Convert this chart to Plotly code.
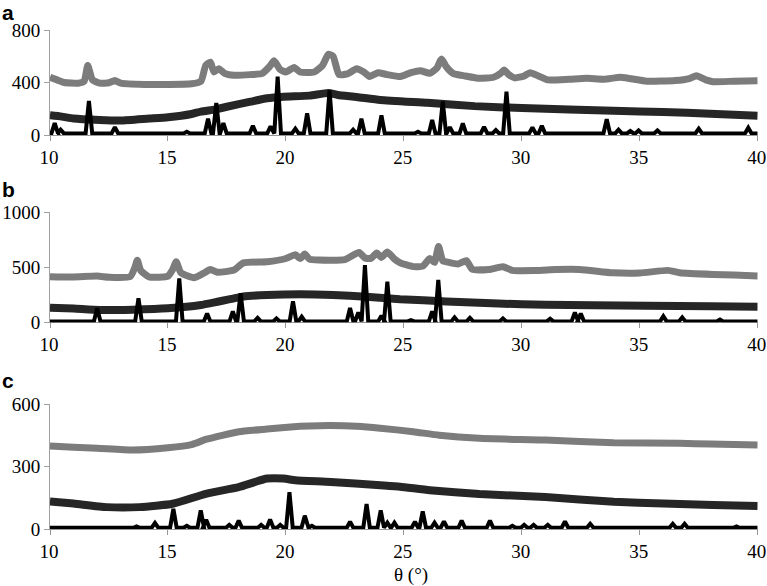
import plotly.graph_objects as go

# ---------------- data ----------------
# Panel a
A_LIGHT_X = [10.0, 10.3, 10.6, 11.2, 11.45, 11.6, 11.8, 12.1, 12.5, 12.75, 13.0, 14.0, 15.0, 16.0, 16.4, 16.6, 16.8,
             16.95, 17.15, 17.4, 17.8, 18.5, 19.0, 19.3, 19.5, 19.75, 20.0, 20.35, 20.6, 21.2, 21.55, 21.8, 22.0, 22.25,
             22.6, 23.0, 23.3, 23.55, 23.9, 24.3, 24.85, 25.3, 25.7, 26.1, 26.4, 26.6, 26.8, 27.1, 27.6, 28.2, 28.8,
             29.1, 29.25, 29.45, 29.7, 30.1, 30.35, 30.7, 31.1, 32.0, 32.75, 33.5, 34.2, 35.3, 36.5, 37.1, 37.4, 37.8,
             38.1, 39.0, 40.0]
A_LIGHT_Y = [440, 420, 400, 395, 410, 530, 420, 395, 398, 415, 395, 385, 385, 390, 410, 530, 555,
             480, 505, 470, 455, 460, 470, 520, 565, 500, 480, 515, 480, 480, 530, 615, 600, 460,
             465, 505, 480, 445, 475, 460, 445, 475, 490, 470, 510, 580, 520, 468, 450, 432, 440,
             470, 495, 460, 435, 450, 475, 450, 420, 425, 432, 425, 440, 410, 415, 430, 452, 420,
             406, 410, 413]
A_DARK_X = [10, 10.5, 11, 12.1, 13, 14.2, 15, 16, 16.4, 17, 17.5, 18.5, 19.2, 19.9, 21, 21.8, 22.2, 23, 24, 26, 28,
            30, 32, 35, 37, 39, 40]
A_DARK_Y = [150, 140, 125, 114, 110, 125, 135, 160, 178, 195, 215, 254, 280, 292, 300, 320, 305, 290, 267, 245, 220,
            205, 195, 180, 170, 155, 147]
A_PEAK_X = [10.2, 10.45, 11.65, 12.75, 15.8, 16.7, 17.05, 17.35, 18.6, 19.35, 19.65, 20.4, 20.9, 21.85, 22.85, 23.2,
            24.05, 25.6, 26.2, 26.65, 26.95, 27.5, 28.4, 28.9, 29.35, 30.45, 30.85, 33.6, 34.1, 34.6, 34.95, 35.75,
            37.5, 39.6]
A_PEAK_Y = [90, 40, 260, 60, 25, 125, 245, 90, 70, 65, 445, 48, 165, 340, 40, 125,
            150, 25, 115, 255, 60, 88, 62, 38, 330, 58, 70, 120, 40, 30, 35, 35,
            48, 55]
A_BASE = 12

# Panel b
B_LIGHT_X = [10, 11, 12, 12.5, 13.4, 13.6, 13.7, 13.85, 14.2, 15.0, 15.2, 15.35, 15.55, 16.1, 16.5, 16.8, 17.1, 17.8,
             18.2, 19.2, 20.0, 20.4, 20.6, 20.8, 21.0, 21.4, 22.5, 23.1, 23.35, 23.6, 23.85, 24.05, 24.3, 24.6, 24.85,
             25.4, 25.8, 26.1, 26.3, 26.47, 26.65, 26.9, 27.3, 27.65, 27.9, 28.6, 29.2, 29.6, 30.5, 31.2, 32.45,
             33.86, 35, 36.2, 36.7, 38.1, 39, 40]
B_LIGHT_Y = [415, 412, 420, 410, 415, 500, 565, 470, 412, 420, 480, 550, 450, 405, 445, 480, 455, 475,
             540, 550, 580, 615, 580, 620, 575, 566, 570, 635, 585, 580, 630, 590, 640, 575, 540,
             506, 510, 580, 545, 690, 560, 545, 530, 560, 482, 480, 505, 472, 470, 478, 480,
             450, 448, 472, 450, 435, 430, 422]
B_DARK_X = [10, 11, 12.1, 13.5, 15, 16.4, 17.8, 18.2, 19.2, 20.6, 22, 23.4, 24.84, 26.8, 29, 31, 33, 35.3, 38, 40]
B_DARK_Y = [133, 125, 112, 115, 127, 157, 218, 235, 248, 254, 248, 233, 210, 190, 170, 160, 155, 150, 145, 142]
B_PEAK_X = [12.0, 13.75, 15.48, 16.66, 17.75, 18.08, 18.8, 19.6, 20.3, 20.67, 22.72, 23.07, 23.35, 24.05, 24.3,
            25.3, 26.2, 26.46, 27.15, 27.8, 29.2, 31.2, 32.25, 32.5, 36.0, 36.8, 38.4]
B_PEAK_Y = [127, 218, 400, 80, 100, 265, 40, 35, 190, 50, 130, 90, 520, 60, 370,
            20, 100, 385, 45, 40, 35, 32, 90, 80, 55, 45, 25]
B_BASE = 8

# Panel c
C_LIGHT_X = [10, 11, 12, 13.5, 15, 16, 16.64, 18, 19.2, 20.2, 21, 21.9, 23, 24, 25.4, 26.5, 28.2, 31, 33.9, 36.7,
             38, 40]
C_LIGHT_Y = [398, 392, 388, 379, 390, 405, 431, 467, 480, 490, 495, 497, 493, 484, 467, 450, 435, 427, 414, 411,
             408, 403]
C_DARK_X = [10, 11, 12.4, 13.8, 15.2, 16.6, 18, 19.2, 19.9, 20.4, 21.9, 24, 24.84, 26.1, 28.2, 31, 33.9, 36, 38.1, 40]
C_DARK_Y = [132, 122, 105, 105, 121, 169, 201, 242, 242, 234, 226, 210, 203, 186, 168, 153, 131, 122, 115, 110]
C_PEAK_X = [13.67, 14.45, 15.23, 15.8, 16.39, 16.62, 17.6, 18.0, 18.95, 19.33, 19.76, 20.15, 20.8, 21.1, 22.72,
            23.42, 24.02, 24.3, 24.6, 25.47, 25.8, 26.3, 26.7, 27.45, 28.65, 29.6, 30.1, 30.5, 31.1, 31.83, 32.9,
            36.4, 36.9, 39.1]
C_PEAK_Y = [12, 29, 97, 15, 89, 44, 20, 40, 20, 45, 20, 177, 64, 15, 35,
            120, 89, 30, 30, 35, 84, 30, 36, 40, 40, 15, 20, 20, 20, 36, 25,
            25, 25, 12]
C_BASE = 6

X_TICKS = [10, 15, 20, 25, 30, 35, 40]
A_YTICKS = [0, 400, 800]
B_YTICKS = [0, 500, 1000]
C_YTICKS = [0, 300, 600]
PANEL_LABELS = ["a", "b", "c"]
X_TITLE = "θ (°)"

# ---------------- styling ----------------
LIGHT = "rgb(124,124,124)"
DARK = "rgb(38,38,38)"
BLACK = "rgb(0,0,0)"
HALF_W = 0.14
SERIF = "Liberation Serif"
SANS = "Liberation Sans"
W, H = 767, 586


def peak_line(px, py, base):
    xs, ys = [10.0], [base]
    for c, h in sorted(zip(px, py)):
        xs += [c - HALF_W, c, c + HALF_W]
        ys += [base, h, base]
    xs.append(40.0)
    ys.append(base)
    return xs, ys


fig = go.Figure()
panels = [
    (A_LIGHT_X, A_LIGHT_Y, A_DARK_X, A_DARK_Y, A_PEAK_X, A_PEAK_Y, A_BASE),
    (B_LIGHT_X, B_LIGHT_Y, B_DARK_X, B_DARK_Y, B_PEAK_X, B_PEAK_Y, B_BASE),
    (C_LIGHT_X, C_LIGHT_Y, C_DARK_X, C_DARK_Y, C_PEAK_X, C_PEAK_Y, C_BASE),
]
for i, (lx, ly, dx, dy, pkx, pky, base) in enumerate(panels):
    ax = "" if i == 0 else str(i + 1)
    fig.add_trace(go.Scatter(x=lx, y=ly, mode="lines", xaxis="x" + ax, yaxis="y" + ax,
                             line=dict(color=LIGHT, width=7, shape="spline", smoothing=0.5),
                             showlegend=False, hoverinfo="skip"))
    fig.add_trace(go.Scatter(x=dx, y=dy, mode="lines", xaxis="x" + ax, yaxis="y" + ax,
                             line=dict(color=DARK, width=8, shape="spline", smoothing=0.5),
                             showlegend=False, hoverinfo="skip"))
    kx, ky = peak_line(pkx, pky, base)
    fig.add_trace(go.Scatter(x=kx, y=ky, mode="lines", xaxis="x" + ax, yaxis="y" + ax,
                             line=dict(color=BLACK, width=4),
                             showlegend=False, hoverinfo="skip"))

# pixel geometry -> paper fractions
x_dom = [50 / W, 757.7 / W]
y_doms = [(135, 30), (322.3, 212.3), (529, 404)]
y_ranges = [[0, 800], [0, 1000], [0, 600]]
y_ticks = [A_YTICKS, B_YTICKS, C_YTICKS]

layout = dict(
    template="none",
    width=W, height=H,
    margin=dict(l=0, r=0, t=0, b=0, pad=0),
    paper_bgcolor="white", plot_bgcolor="white",
    font=dict(family=SERIF, size=19, color="black"),
    showlegend=False,
)
for i in range(3):
    ax = "" if i == 0 else str(i + 1)
    bot, top = y_doms[i]
    layout["xaxis" + ax] = dict(
        domain=x_dom, range=[10, 40], anchor="y" + ax, automargin=False,
        tickvals=X_TICKS, ticktext=[str(v) for v in X_TICKS], ticklabeloverflow="allow",
        ticklabelshift=-1,
        showgrid=False, zeroline=False, showline=True, linecolor="rgb(150,150,150)", linewidth=1,
        ticks="outside", ticklen=5, tickcolor="rgb(150,150,150)", layer="below traces",
        tickfont=dict(family=SERIF, size=19, color="black"),
    )
    layout["yaxis" + ax] = dict(
        domain=[1 - bot / H, 1 - top / H], range=y_ranges[i], anchor="x" + ax, automargin=False,
        tickvals=y_ticks[i], ticktext=[str(v) for v in y_ticks[i]], ticklabeloverflow="allow",
        showgrid=False, zeroline=False, showline=True, linecolor="rgb(160,160,160)", linewidth=1,
        ticks="outside", ticklen=5, tickcolor="rgb(160,160,160)",
        tickfont=dict(family=SERIF, size=19, color="black"),
    )

annotations = []
# panel letters: top edge of each text box (pixels from the top)
for lab, top_px in zip(PANEL_LABELS, [0, 177, 368]):
    annotations.append(dict(text="<b>%s</b>" % lab, x=1 / W, y=1 - top_px / H, xref="paper", yref="paper",
                            xanchor="left", yanchor="top", showarrow=False, borderpad=0,
                            font=dict(family=SANS, size=21, color="black")))
annotations.append(dict(text=X_TITLE, x=411 / W, y=1 - 575 / H, xref="paper", yref="paper",
                        xanchor="center", yanchor="middle", showarrow=False,
                        font=dict(family=SERIF, size=19, color="black")))
layout["annotations"] = annotations

fig.update_layout(**layout)
fig.write_html("out.html", config={"displayModeBar": False},
               post_script="document.body.style.margin='0';document.body.style.overflow='hidden';")
